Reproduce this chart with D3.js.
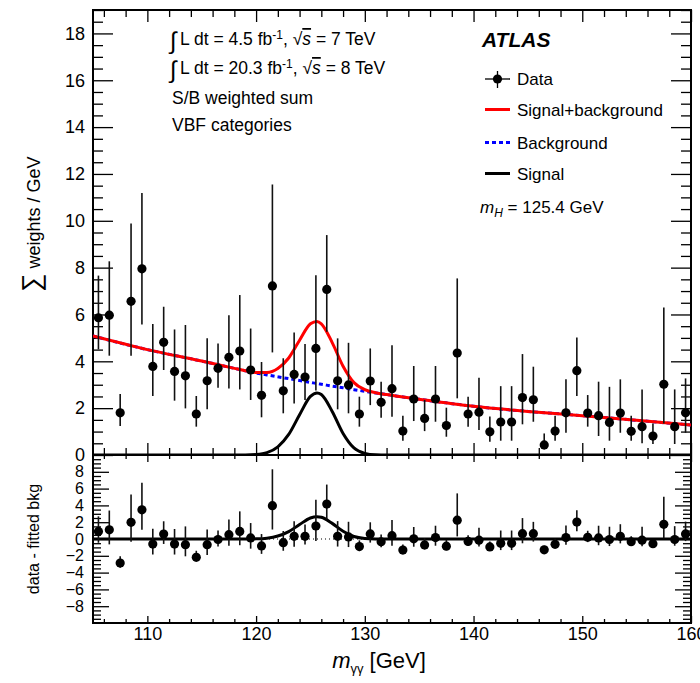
<!DOCTYPE html>
<html>
<head>
<meta charset="utf-8">
<script src="https://cdn.jsdelivr.net/npm/d3@7"></script>
<style>
  body { margin: 0; background: #fff; }
  text { font-family: "Liberation Sans", Arial, Helvetica, sans-serif; fill: #000; }
</style>
</head>
<body>
<div id="chart"></div>
<script>
// bin centres (GeV)
const massBins = [105.5, 106.5, 107.5, 108.5, 109.5, 110.5, 111.5, 112.5, 113.5, 114.5,
  115.5, 116.5, 117.5, 118.5, 119.5, 120.5, 121.5, 122.5, 123.5, 124.5,
  125.5, 126.5, 127.5, 128.5, 129.5, 130.5, 131.5, 132.5, 133.5, 134.5,
  135.5, 136.5, 137.5, 138.5, 139.5, 140.5, 141.5, 142.5, 143.5, 144.5,
  145.5, 146.5, 147.5, 148.5, 149.5, 150.5, 151.5, 152.5, 153.5, 154.5,
  155.5, 156.5, 157.5, 158.5, 159.5];

// S/B weighted sum per GeV
const weights = [5.86, 5.97, 1.80, 6.56, 7.95, 3.78, 4.81, 3.57, 3.38, 1.75,
  3.17, 3.70, 4.17, 4.44, 3.63, 2.55, 7.22, 2.74, 3.44, 3.33,
  4.55, 7.07, 3.17, 2.99, 1.75, 3.16, 2.25, 2.83, 1.02, 2.39,
  1.56, 2.39, 1.26, 4.35, 1.75, 1.83, 0.99, 1.41, 1.41, 2.45,
  2.36, 0.43, 1.02, 1.80, 3.60, 1.79, 1.68, 1.39, 1.79, 1.01,
  1.21, 0.81, 3.02, 1.21, 1.80];

const errUp = [1.80, 2.30, 0.80, 3.32, 3.24, 1.81, 1.52, 1.79, 2.17, 0.77,
  1.81, 1.06, 1.80, 2.39, 1.77, 1.42, 4.33, 1.39, 1.79, 1.41,
  3.13, 2.32, 1.81, 1.80, 0.74, 1.39, 0.88, 1.86, 0.66, 1.41,
  0.79, 1.41, 0.76, 3.19, 0.74, 1.47, 0.65, 1.53, 1.53, 1.86,
  1.41, 0.49, 0.66, 1.43, 1.42, 0.77, 1.45, 1.52, 1.44, 0.67,
  1.59, 0.54, 3.28, 1.59, 1.47];

const errDown = [1.35, 1.73, 0.56, 2.32, 2.38, 1.26, 1.18, 1.25, 1.39, 0.54,
  1.22, 0.83, 1.33, 1.64, 1.28, 0.94, 2.84, 0.96, 1.24, 0.98,
  1.80, 1.81, 1.22, 1.21, 0.54, 1.03, 0.66, 1.20, 0.41, 0.94,
  0.54, 0.97, 0.48, 1.93, 0.54, 0.76, 0.42, 0.80, 0.80, 1.14,
  0.94, 0.19, 0.41, 0.85, 1.08, 0.58, 0.87, 0.78, 0.84, 0.40,
  0.71, 0.34, 1.67, 0.74, 0.85];

// data - fitted bkg
const residuals = [0.90, 1.09, -2.86, 1.98, 3.47, -0.60, 0.59, -0.60, -0.67, -2.17,
  -0.67, -0.06, 0.52, 0.90, 0.13, -0.83, 3.97, -0.44, 0.32, 0.32,
  1.55, 4.16, 0.32, 0.25, -0.90, 0.60, -0.33, 0.40, -1.32, 0.02,
  -0.71, 0.17, -0.86, 2.24, -0.29, -0.14, -0.94, -0.52, -0.52, 0.63,
  0.63, -1.29, -0.63, 0.17, 2.01, 0.21, 0.13, -0.06, 0.32, -0.33,
  -0.14, -0.56, 1.75, -0.06, 0.60];

// fitted curves
const curveMass = [105, 110, 115, 118, 119, 120, 121, 122, 123, 124, 125, 125.6, 126,
  127, 128, 129, 130, 131, 132, 133, 135, 140, 145, 150, 155, 160];
const bkgCurve = [5.08, 4.50, 4.01, 3.70, 3.60, 3.50, 3.42, 3.34, 3.26, 3.18, 3.10, 3.05, 3.02,
  2.94, 2.87, 2.79, 2.72, 2.65, 2.58, 2.51, 2.38, 2.08, 1.86, 1.68, 1.48, 1.28];
const sigCurve = [0, 0, 0, 0, 0, 0.02, 0.10, 0.35, 0.88, 1.72, 2.50, 2.65, 2.58,
  1.86, 0.92, 0.30, 0.07, 0.01, 0, 0, 0, 0, 0, 0, 0, 0];

const xTicks = [110, 120, 130, 140, 150, 160];
const topTicks = [0, 2, 4, 6, 8, 10, 12, 14, 16, 18];
const ratioTicks = [-8, -6, -4, -2, 0, 2, 4, 6, 8];

const width = 700, height = 683;
const padL = 93, padR = 691, padT = 10, padM = 455, padB = 623;

const x = d3.scaleLinear().domain([105, 160]).range([padL, padR]);
const y = d3.scaleLinear().domain([0, 19]).range([padM, padT]);
const yr = d3.scaleLinear().domain([-10, 10]).range([padB, padM]);

const svg = d3.select("#chart").append("svg")
  .attr("width", width)
  .attr("height", height);

const defs = svg.append("defs");
defs.append("clipPath").attr("id", "clipTop")
  .append("rect").attr("x", padL).attr("y", padT).attr("width", padR - padL).attr("height", padM - padT);
defs.append("clipPath").attr("id", "clipBot")
  .append("rect").attr("x", padL).attr("y", padM).attr("width", padR - padL).attr("height", padB - padM);

// ---- axes (ROOT style: inward ticks on all four sides)
const drawAxes = (gen, scale, tx, ty, majorVals, minorVals, major, minor, labelled, fontSize, pad) => {
  const gMinor = svg.append("g").attr("transform", `translate(${tx},${ty})`)
    .call(gen(scale).tickValues(minorVals).tickSize(-minor).tickFormat(""));
  gMinor.select(".domain").remove();
  gMinor.selectAll("line").attr("stroke", "#000").attr("stroke-width", 1.3);

  const g = svg.append("g").attr("transform", `translate(${tx},${ty})`)
    .call(gen(scale).tickValues(majorVals).tickSize(-major).tickPadding(pad || 8)
      .tickFormat(labelled ? (d) => String(d).replace("-", "\u2212") : ""));
  g.select(".domain").remove();
  g.selectAll("line").attr("stroke", "#000").attr("stroke-width", 1.3);
  g.selectAll("text").style("font-size", fontSize + "px").attr("font-family", null);
  return g;
};

const minorX = d3.range(106, 160, 2).filter((d) => d % 10 !== 0);
const minorTop = d3.range(0, 19.01, 0.5).filter((d) => d % 2 !== 0);
const minorRatio = d3.range(-10, 10.01, 0.5).filter((d) => d % 2 !== 0);

// top panel
drawAxes(d3.axisLeft, y, padL, 0, topTicks, minorTop, 20, 10, true, 18, 8);
drawAxes(d3.axisRight, y, padR, 0, topTicks, minorTop, 20, 10, false, 18);
drawAxes(d3.axisBottom, x, 0, padM, xTicks, minorX, 12, 7, false, 18);
drawAxes(d3.axisTop, x, 0, padT, xTicks, minorX, 12, 7, false, 18);

// ratio panel
drawAxes(d3.axisLeft, yr, padL, 0, ratioTicks, minorRatio, 16, 8, true, 16, 9);
drawAxes(d3.axisRight, yr, padR, 0, ratioTicks, minorRatio, 16, 8, false, 16);
drawAxes(d3.axisBottom, x, 0, padB, xTicks, minorX, 7, 4, true, 18, 4);
drawAxes(d3.axisTop, x, 0, padM, xTicks, minorX, 7, 4, false, 18);

// frames
svg.append("rect").attr("x", padL).attr("y", padT).attr("width", padR - padL).attr("height", padM - padT)
  .attr("fill", "none").attr("stroke", "#000").attr("stroke-width", 2);
svg.append("rect").attr("x", padL).attr("y", padM).attr("width", padR - padL).attr("height", padB - padM)
  .attr("fill", "none").attr("stroke", "#000").attr("stroke-width", 2);

// ---- curves, top panel
const curvePts = curveMass.map((m, i) => ({m, b: bkgCurve[i], s: sigCurve[i]}));
const lineTop = (f) => d3.line().x((d) => x(d.m)).y((d) => y(f(d))).curve(d3.curveMonotoneX);

const topG = svg.append("g").attr("clip-path", "url(#clipTop)");
topG.append("path").datum(curvePts)
  .attr("d", lineTop((d) => d.b))
  .attr("fill", "none").attr("stroke", "#0000ff").attr("stroke-width", 3).attr("stroke-dasharray", "4,3");
topG.append("path").datum(curvePts)
  .attr("d", lineTop((d) => d.b + d.s))
  .attr("fill", "none").attr("stroke", "#ff0000").attr("stroke-width", 3);
topG.append("path").datum(curvePts)
  .attr("d", lineTop((d) => d.s))
  .attr("fill", "none").attr("stroke", "#000").attr("stroke-width", 3);

// ---- data points, top panel
const points = massBins.map((m, i) => ({m, v: weights[i], r: residuals[i], up: errUp[i], dn: errDown[i]}));

topG.selectAll(".ebar").data(points).join("line")
  .attr("class", "ebar")
  .attr("x1", (d) => x(d.m)).attr("x2", (d) => x(d.m))
  .attr("y1", (d) => y(d.v + d.up)).attr("y2", (d) => y(d.v - d.dn))
  .attr("stroke", "#111").attr("stroke-width", 1.6);
topG.selectAll(".pt").data(points).join("circle")
  .attr("class", "pt")
  .attr("cx", (d) => x(d.m)).attr("cy", (d) => y(d.v)).attr("r", 4.6)
  .attr("fill", "#000");

// ---- ratio panel
const botG = svg.append("g").attr("clip-path", "url(#clipBot)");
botG.append("line")
  .attr("x1", padL).attr("x2", padR).attr("y1", yr(0)).attr("y2", yr(0))
  .attr("stroke", "#000").attr("stroke-width", 1.2).attr("stroke-dasharray", "1,3");
botG.append("path").datum(curvePts)
  .attr("d", d3.line().x((d) => x(d.m)).y((d) => yr(d.s)).curve(d3.curveMonotoneX))
  .attr("fill", "none").attr("stroke", "#000").attr("stroke-width", 3);
botG.selectAll(".rbar").data(points).join("line")
  .attr("class", "rbar")
  .attr("x1", (d) => x(d.m)).attr("x2", (d) => x(d.m))
  .attr("y1", (d) => yr(d.r + d.up)).attr("y2", (d) => yr(d.r - d.dn))
  .attr("stroke", "#111").attr("stroke-width", 1.6);
botG.selectAll(".rpt").data(points).join("circle")
  .attr("class", "rpt")
  .attr("cx", (d) => x(d.m)).attr("cy", (d) => yr(d.r)).attr("r", 4.6)
  .attr("fill", "#000");

// ---- axis titles
const xt = svg.append("text")
  .attr("x", 379).attr("y", 668)
  .attr("text-anchor", "middle")
  .style("font-size", "22px");
xt.append("tspan").text("m").style("font-style", "italic");
xt.append("tspan").text("\u03b3\u03b3").attr("dy", 5).style("font-size", "13px");
xt.append("tspan").text(" [GeV]").attr("dy", -5);

const yt = svg.append("text")
  .attr("transform", "translate(40,292) rotate(-90)")
  .style("font-size", "18px");
yt.append("tspan").text("\u2211").style("font-size", "26px");
yt.append("tspan").text(" weights / GeV");

svg.append("text")
  .attr("transform", `translate(39,${yr(0)}) rotate(-90)`)
  .attr("text-anchor", "middle")
  .style("font-size", "16px")
  .text("data - fitted bkg");

// ---- annotations
const lumi = [
  {y: 45, l: "4.5", e: "7"},
  {y: 74, l: "20.3", e: "8"}
];
lumi.forEach((r) => {
  svg.append("text").attr("x", 170).attr("y", r.y + 4).style("font-size", "24px").text("\u222b");
  const t = svg.append("text").attr("x", 180).attr("y", r.y).style("font-size", "17.5px");
  t.append("tspan").text(`L dt = ${r.l} fb`);
  t.append("tspan").text("-1").attr("dy", -6).style("font-size", "12px");
  t.append("tspan").text(", \u221a").attr("dy", 6);
  t.append("tspan").text("s").style("font-style", "italic").style("text-decoration", "overline");
  t.append("tspan").text(` = ${r.e} TeV`);
});
svg.append("text").attr("x", 172).attr("y", 104).style("font-size", "17.5px").text("S/B weighted sum");
svg.append("text").attr("x", 172).attr("y", 131).style("font-size", "17.5px").text("VBF categories");

svg.append("text").attr("x", 482).attr("y", 47)
  .style("font-size", "21px").style("font-weight", "bold").style("font-style", "italic")
  .text("ATLAS");

// legend
const leg = svg.append("g");
leg.append("line").attr("x1", 485).attr("x2", 510).attr("y1", 79).attr("y2", 79).attr("stroke", "#000").attr("stroke-width", 1.3);
leg.append("line").attr("x1", 497.5).attr("x2", 497.5).attr("y1", 71).attr("y2", 88).attr("stroke", "#000").attr("stroke-width", 1.3);
leg.append("circle").attr("cx", 497.5).attr("cy", 79).attr("r", 4.6).attr("fill", "#000");
leg.append("line").attr("x1", 485).attr("x2", 510).attr("y1", 109.5).attr("y2", 109.5).attr("stroke", "#ff0000").attr("stroke-width", 3);
leg.append("line").attr("x1", 485).attr("x2", 510).attr("y1", 142.5).attr("y2", 142.5).attr("stroke", "#0000ff").attr("stroke-width", 3).attr("stroke-dasharray", "4,3");
leg.append("line").attr("x1", 485).attr("x2", 510).attr("y1", 173.5).attr("y2", 173.5).attr("stroke", "#000").attr("stroke-width", 3);
[["Data", 85], ["Signal+background", 116], ["Background", 149], ["Signal", 180]].forEach(([s, yy]) => {
  leg.append("text").attr("x", 517).attr("y", yy).style("font-size", "17px").text(s);
});
const mh = svg.append("text").attr("x", 480).attr("y", 213).style("font-size", "17px");
mh.append("tspan").text("m").style("font-style", "italic");
mh.append("tspan").text("H").attr("dy", 4).style("font-size", "12px").style("font-style", "italic");
mh.append("tspan").text(" = 125.4 GeV").attr("dy", -4);
</script>
</body>
</html>
